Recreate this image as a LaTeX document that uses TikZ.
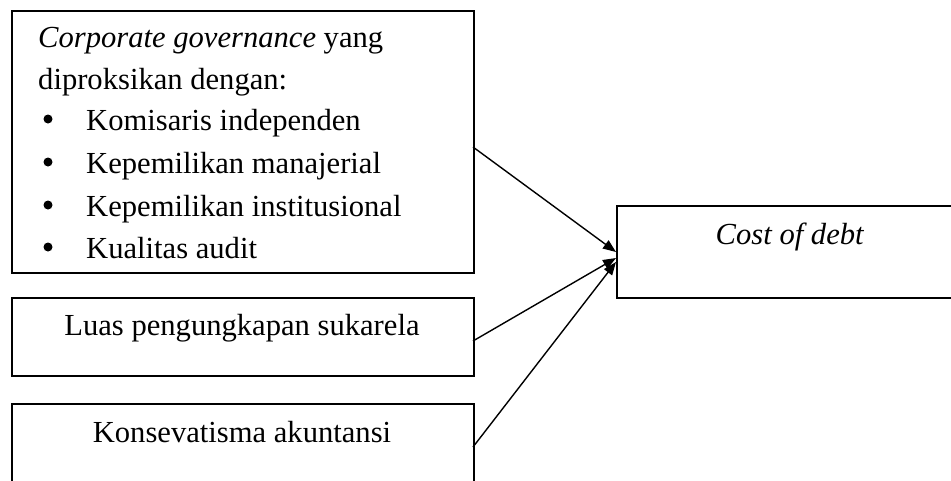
\documentclass[tikz,border=0pt]{standalone}
\usepackage{fontspec}
\setmainfont{Liberation Serif}
\usetikzlibrary{arrows.meta}
\begin{document}
\begin{tikzpicture}[x=1pt,y=-1pt,
  box/.style={draw,line width=1.6pt,minimum width=#1,inner sep=0pt,anchor=north west},
  lbl/.style={font=\fontsize{30.6}{36}\selectfont,inner sep=0pt},
  conn/.style={line width=1.4pt,-{Triangle[length=13pt,width=10pt]}}]
\useasboundingbox (0,0) rectangle (951,480);
\clip (0,0) rectangle (951,480);
% boxes
\node[box=462pt,minimum height=262pt] (cg) at (11,10) {};
\node[box=462pt,minimum height=78pt] (lps) at (11,297) {};
\node[box=462pt,minimum height=110pt] (ka) at (11,403) {};
\node[box=360pt,minimum height=92pt] (cod) at (616,205) {};
% texts box 1
\node[lbl,anchor=base west] (t1) at (38,47) {\textit{Corporate governance} yang};
\node[lbl,anchor=base west] (t2) at (38,89) {diproksikan dengan:};
\node[lbl,anchor=base west] (i1) at (86,130) {Komisaris independen};
\node[lbl,anchor=base west] (i2) at (86,173) {Kepemilikan manajerial};
\node[lbl,anchor=base west] (i3) at (86,216) {Kepemilikan institusional};
\node[lbl,anchor=base west] (i4) at (86,258) {Kualitas audit};
\foreach \y/\n in {130/b1,173/b2,216/b3,258/b4}
  \node[circle,fill,inner sep=0pt,minimum size=9pt] (\n) at (48,\y-11) {};
% other texts
\node[lbl,anchor=base] (t3) at (242,335) {Luas pengungkapan sukarela};
\node[lbl,anchor=base] (t4) at (242,442) {Konsevatisma akuntansi};
\node[lbl,anchor=base] (t5) at (790,244) {\textit{Cost of debt}};
% connectors
\coordinate (p1) at (473,147);
\coordinate (p2) at (473,341);
\coordinate (p3) at (473,447);
\draw[conn] (p1) -- ([yshift=-47pt]cod.north west);
\draw[conn] (p2) -- ([yshift=-53pt]cod.north west);
\draw[conn] (p3) -- ([yshift=-57pt]cod.north west);
\end{tikzpicture}
\end{document}
